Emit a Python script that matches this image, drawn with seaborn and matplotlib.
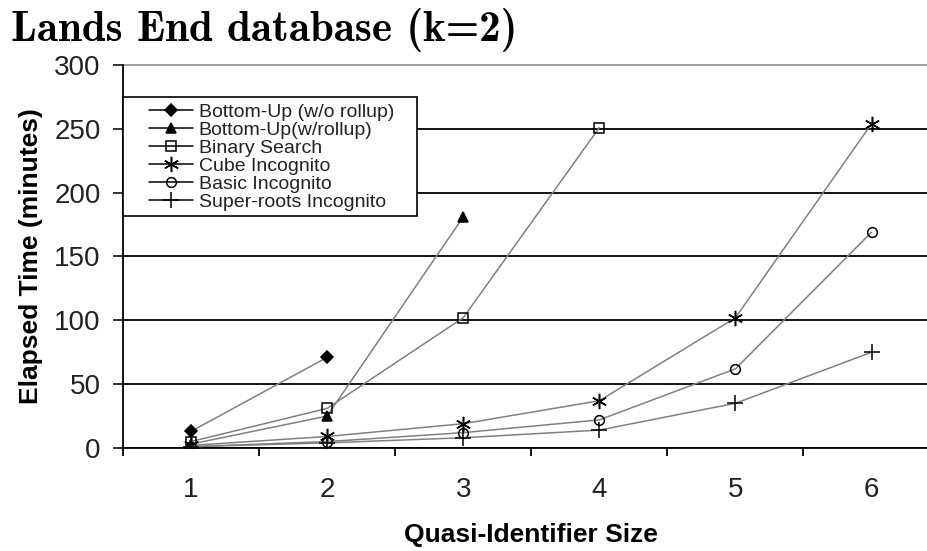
import matplotlib
matplotlib.use("Agg")
import numpy as np
import matplotlib.pyplot as plt
import seaborn as sns
import pandas as pd
from matplotlib.ticker import MultipleLocator, FixedLocator
from matplotlib.legend_handler import HandlerLine2D

sizes = [1, 2, 3, 4, 5, 6]
bu_norollup = [13, 71]
bu_rollup = [3, 25, 181]
binary_search = [5, 31, 102, 251]
cube_incognito = [2, 9, 19, 37, 102, 254]
basic_incognito = [1, 5, 12, 22, 62, 169]
superroots_incognito = [1, 4, 8, 14, 35, 75]

series_names = ["Bottom-Up (w/o rollup)", "Bottom-Up(w/rollup)", "Binary Search",
                "Cube Incognito", "Basic Incognito", "Super-roots Incognito"]
series_values = [bu_norollup, bu_rollup, binary_search, cube_incognito,
                 basic_incognito, superroots_incognito]
markers = ["D", "^", "s", (6, 2, 0), "o", "+"]
filled = [True, True, False, False, False, False]
msizes = [6, 7, 7, 11, 7, 12]

sns.set_theme(style="white")
plt.rcParams['font.family'] = ['Liberation Sans', 'DejaVu Sans']

fig = plt.figure(figsize=(9.28, 5.51), dpi=100)
ax = fig.add_axes([0.1325, 0.187, 0.88, 0.695])

for name, vals, m, f, ms in zip(series_names, series_values, markers, filled, msizes):
    df = pd.DataFrame({"size": sizes[:len(vals)], "time": vals})
    sns.lineplot(data=df, x="size", y="time", ax=ax, color="#808080", linewidth=1.1,
                 marker=m, markersize=ms, markeredgecolor="black",
                 markerfacecolor="black" if f else "none", markeredgewidth=1.1,
                 label=name, legend=False, zorder=3)

ax.set_xlim(0.5, 6.5)
ax.set_ylim(0, 300)
ax.yaxis.set_major_locator(MultipleLocator(50))
ax.grid(axis="y", color="black", linewidth=1.3)
ax.set_axisbelow(True)
for gl, v in zip(ax.get_ygridlines(), ax.get_yticks()):
    if v >= 300:
        gl.set_color("#9a9a9a")
        gl.set_clip_on(False)
for s in ["top", "right"]:
    ax.spines[s].set_visible(False)
for s in ["left", "bottom"]:
    ax.spines[s].set_color("black")
    ax.spines[s].set_linewidth(1.3)

ax.set_xticks(sizes)
ax.set_xticklabels([str(s) for s in sizes])
ax.xaxis.set_minor_locator(FixedLocator([0.5, 1.5, 2.5, 3.5, 4.5, 5.5, 6.5]))
ax.tick_params(axis="x", which="major", length=0, pad=21, labelsize=20, colors="#222222")
ax.tick_params(axis="x", which="minor", length=6, width=1.3, direction="out", bottom=True, color="black")
ax.tick_params(axis="y", which="major", length=7, width=1.3, direction="out", left=True,
               pad=9, labelsize=20, colors="#222222")
for t in ax.get_yticklabels() + ax.get_xticklabels():
    t.set_color("#222222")

ax.set_xlabel("Quasi-Identifier Size", fontsize=19, fontweight="bold", labelpad=14, color="black")
ax.set_ylabel("Elapsed Time (minutes)", fontsize=19, fontweight="bold", labelpad=8, color="black")


class ShiftHandler(HandlerLine2D):
    def create_artists(self, legend, orig_handle, xdescent, ydescent, width, height, fontsize, trans):
        arts = super().create_artists(legend, orig_handle, xdescent, ydescent, width, height,
                                      fontsize, trans)
        x0 = -xdescent
        s = 0.31 * width
        for a in arts:
            xd = np.asarray(a.get_xdata(), dtype=float)
            a.set_xdata(x0 + s + (xd - x0) * (width - s) / width)
        return arts


h, l = ax.get_legend_handles_labels()
leg = ax.legend(h, l, loc="upper left", bbox_to_anchor=(0.0, 0.5, 0.36, 0.416), mode="expand",
                fontsize=14, frameon=True, fancybox=False, edgecolor="black", framealpha=1,
                handlelength=3.3, labelspacing=0.02, borderpad=0.3, handletextpad=0.3,
                borderaxespad=0, handler_map={l2: ShiftHandler() for l2 in h})
leg.get_frame().set_linewidth(1.2)
for lh, f in zip(leg.get_lines(), filled):
    lh.set_color("black")
    lh.set_markeredgecolor("black")
    lh.set_markerfacecolor("black" if f else "none")
for t in leg.get_texts():
    t.set_color("#222222")

fig.text(0.012, 0.985, "Lands End database (k=2)", fontsize=31, fontfamily=["cmb10", "DejaVu Serif"],
         va="top", ha="left", color="black")

fig.savefig("out.png", dpi=100)
